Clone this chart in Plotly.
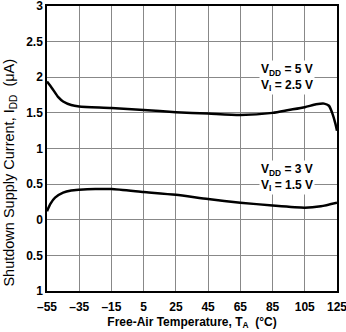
import plotly.graph_objects as go

temp_5v = [-55, -52, -48, -45, -40, -35, -15, 5, 25, 45, 65, 85, 95, 105, 112, 117, 120, 122, 124, 125]
idd_5v = [1.94, 1.85, 1.72, 1.66, 1.61, 1.59, 1.57, 1.54, 1.51, 1.49, 1.47, 1.50, 1.54, 1.58, 1.62, 1.63, 1.60, 1.50, 1.35, 1.25]

temp_3v = [-55, -53, -50, -45, -40, -35, -25, -15, 5, 25, 45, 65, 85, 105, 115, 125]
idd_3v = [0.12, 0.22, 0.31, 0.38, 0.41, 0.42, 0.43, 0.43, 0.39, 0.35, 0.29, 0.24, 0.20, 0.17, 0.19, 0.24]

x_ticks = [-55, -35, -15, 5, 25, 45, 65, 85, 105, 125]
y_ticks = [3, 2.5, 2, 1.5, 1, 0.5, 0, -0.5, -1]
y_labels = ["3", "2.5", "2", "1.5", "1", "0.5", "0", "0.5", "1"]

font = "Liberation Sans"

fig = go.Figure()
fig.add_trace(go.Scatter(x=temp_5v, y=idd_5v, mode="lines", line=dict(color="black", width=2.5, shape="spline", smoothing=0.6), showlegend=False))
fig.add_trace(go.Scatter(x=temp_3v, y=idd_3v, mode="lines", line=dict(color="black", width=2.5, shape="spline", smoothing=0.6), showlegend=False))

fig.add_annotation(x=94, y=2.0, xref="x", yref="y", text="<b>V<sub>DD</sub> = 5 V<br>V<sub>I</sub> = 2.5 V</b>",
                   showarrow=False, bgcolor="white", font=dict(family=font, size=12, color="black"), align="left")
fig.add_annotation(x=94, y=0.60, xref="x", yref="y", text="<b>V<sub>DD</sub> = 3 V<br>V<sub>I</sub> = 1.5 V</b>",
                   showarrow=False, bgcolor="white", font=dict(family=font, size=12, color="black"), align="left")

# y-axis title (placed below the plot centre, as in the reference)
fig.add_annotation(x=-0.128, y=0.415, xref="paper", yref="paper", textangle=-90,
                   text="Shutdown Supply Current, I<sub>DD</sub>  (μA)", showarrow=False,
                   font=dict(family=font, size=14.5, color="black"), xanchor="center", yanchor="middle")

fig.update_layout(
    width=346, height=332,
    margin=dict(l=47, r=9, t=6, b=41),
    paper_bgcolor="white", plot_bgcolor="white",
    font=dict(family=font, size=12, color="black"),
    xaxis=dict(range=[-55, 125], tickvals=x_ticks, ticktext=[("\u2013" + str(-v)) if v < 0 else str(v) for v in x_ticks],
               showgrid=True, gridcolor="#888888", gridwidth=1, zeroline=False,
               showline=True, linecolor="black", linewidth=1.5, mirror=True, ticks="",
               ticklabeloverflow="allow", automargin=False, ticklabelstandoff=4,
               tickfont=dict(family=font, size=12, color="black", weight="bold"),
               title=dict(text="<b>Free-Air Temperature, T<sub>A</sub>  (°C)</b>", font=dict(family=font, size=12), standoff=4)),
    yaxis=dict(range=[-1, 3], tickvals=y_ticks, ticktext=y_labels,
               showgrid=True, gridcolor="#888888", gridwidth=1, zeroline=False,
               showline=True, linecolor="black", linewidth=1.5, mirror=True, ticks="",
               ticklabeloverflow="allow", automargin=False,
               tickfont=dict(family=font, size=12, color="black", weight="bold")),
)

fig.write_html("out.html")
